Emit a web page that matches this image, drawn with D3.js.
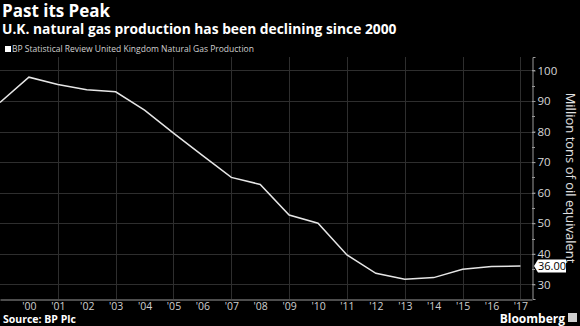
<!DOCTYPE html>
<html>
<head>
<meta charset="utf-8">
<script src="https://cdn.jsdelivr.net/npm/d3@7"></script>
<style>
  html, body { margin: 0; padding: 0; background: #000; }
  svg { display: block; }
</style>
</head>
<body>
<div class="canvas"></div>
<script>
// data
const years = [1999, 2000, 2001, 2002, 2003, 2004, 2005, 2006, 2007, 2008,
               2009, 2010, 2011, 2012, 2013, 2014, 2015, 2016, 2017]
const production = [89.5, 97.8, 95.4, 93.7, 93.0, 87.0, 79.5, 72.2, 65.0, 62.7,
                    52.7, 50.0, 39.6, 33.6, 31.7, 32.2, 34.9, 35.8, 36.0]
const yTicks = [30, 40, 50, 60, 70, 80, 90, 100]
const yMinorTicks = [30, 35, 40, 45, 50, 55, 60, 65, 70, 75, 80, 85, 90, 95, 100]
const xTickYears = [2000, 2001, 2002, 2003, 2004, 2005, 2006, 2007, 2008,
                    2009, 2010, 2011, 2012, 2013, 2014, 2015, 2016, 2017]
const xGridYears = [2001, 2003, 2005, 2007, 2009, 2011, 2013, 2015, 2017]

/**
 * Dimensions
 */
const dims = { width: 580, height: 326 }
const plot = { left: 0, right: 532, top: 57, bottom: 299 }
const font = "'Open Sans', sans-serif"

const svg = d3.select(".canvas")
    .append("svg")
    .attr("width", dims.width)
    .attr("height", dims.height)
    .style("background", "#000")

const x = d3.scaleLinear()
    .domain([1999, 2017.4])
    .range([plot.left, plot.right])

const y = d3.scaleLinear()
    .domain([25.2, 104.4])
    .range([plot.bottom, plot.top])

/**
 * Grid
 */
svg.append("g")
    .selectAll("line")
    .data(yTicks)
    .enter()
    .append("line")
    .attr("x1", plot.left)
    .attr("x2", plot.right)
    .attr("y1", d => Math.round(y(d)) + 0.5)
    .attr("y2", d => Math.round(y(d)) + 0.5)
    .attr("stroke", "#2e2e2e")

svg.append("g")
    .selectAll("line")
    .data(xGridYears)
    .enter()
    .append("line")
    .attr("x1", d => Math.round(x(d)) + 0.5)
    .attr("x2", d => Math.round(x(d)) + 0.5)
    .attr("y1", plot.top)
    .attr("y2", plot.bottom)
    .attr("stroke", "#2e2e2e")

/**
 * Axes
 */
const xAxis = svg.append("g")
    .attr("transform", `translate(0, ${plot.bottom + 0.5})`)
    .call(d3.axisBottom(x).tickValues(xTickYears).tickSize(0).tickPadding(0)
        .tickFormat(d => "'" + String(d).slice(2)))
xAxis.select(".domain").attr("stroke", "#9a9a9a")
xAxis.selectAll("text")
    .attr("fill", "#cfcfcf")
    .attr("font-family", font)
    .attr("font-size", 10.5)
    .attr("y", 10)
    .attr("dy", null)

const yAxis = svg.append("g")
    .attr("transform", `translate(${plot.right + 0.5}, 0)`)
    .call(d3.axisRight(y).tickValues(yTicks).tickSize(3).tickPadding(2))
yAxis.select(".domain").attr("stroke", "#9a9a9a")
yAxis.selectAll("line").attr("stroke", "#9a9a9a")
yAxis.selectAll("text")
    .attr("fill", "#d8d8d8")
    .attr("font-family", font)
    .attr("font-size", 11.5)

svg.append("g")
    .selectAll("line")
    .data(yMinorTicks)
    .enter()
    .append("line")
    .attr("x1", plot.right)
    .attr("x2", plot.right + 3)
    .attr("y1", d => Math.round(y(d)) + 0.5)
    .attr("y2", d => Math.round(y(d)) + 0.5)
    .attr("stroke", "#9a9a9a")

svg.append("text")
    .attr("transform", `translate(566, 178) rotate(90)`)
    .attr("text-anchor", "middle")
    .attr("fill", "#e0e0e0")
    .attr("font-family", font)
    .attr("font-size", 13)
    .text("Million tons of oil equivalent")

/**
 * Line
 */
const series = years.map((d, i) => ({ year: d, value: production[i] }))

svg.append("path")
    .datum(series)
    .attr("fill", "none")
    .attr("stroke", "#e6e6e6")
    .attr("stroke-width", 1.5)
    .attr("d", d3.line().x(d => x(d.year)).y(d => y(d.value)))

// last value tag
const last = series[series.length - 1]
const ly = y(last.value)
const tag = svg.append("g").attr("transform", `translate(${plot.right + 2}, ${ly})`)
tag.append("path")
    .attr("d", "M0,0 L4,-6.5 L32,-6.5 L32,6.5 L4,6.5 Z")
    .attr("fill", "#fff")
tag.append("text")
    .attr("x", 18)
    .attr("y", 4)
    .attr("text-anchor", "middle")
    .attr("fill", "#000")
    .attr("font-family", font)
    .attr("font-size", 11)
    .text(last.value.toFixed(2))

/**
 * Titles
 */
svg.append("text")
    .attr("x", 2).attr("y", 17)
    .attr("fill", "#fff")
    .attr("font-family", font)
    .attr("font-weight", "bold")
    .attr("font-size", 17)
    .text("Past its Peak")

svg.append("text")
    .attr("x", 2).attr("y", 34)
    .attr("fill", "#fff")
    .attr("font-family", font)
    .attr("font-weight", "bold")
    .attr("font-size", 13.8)
    .text("U.K. natural gas production has been declining since 2000")

svg.append("rect")
    .attr("x", 5).attr("y", 46)
    .attr("width", 6).attr("height", 6)
    .attr("fill", "#fff")

svg.append("text")
    .attr("x", 12).attr("y", 52)
    .attr("fill", "#d0d0d0")
    .attr("font-family", font)
    .attr("font-size", 8.5)
    .text("BP Statistical Review United Kingdom Natural Gas Production")

svg.append("text")
    .attr("x", 3).attr("y", 323)
    .attr("fill", "#fff")
    .attr("font-family", font)
    .attr("font-weight", "bold")
    .attr("font-size", 10.5)
    .text("Source: BP Plc")

svg.append("text")
    .attr("x", 565).attr("y", 323)
    .attr("text-anchor", "end")
    .attr("fill", "#fff")
    .attr("font-family", font)
    .attr("font-weight", "bold")
    .attr("font-size", 12)
    .text("Bloomberg")

svg.append("rect")
    .attr("x", 568).attr("y", 313)
    .attr("width", 9).attr("height", 9)
    .attr("fill", "#cfcfcf")
</script>
</body>
</html>
